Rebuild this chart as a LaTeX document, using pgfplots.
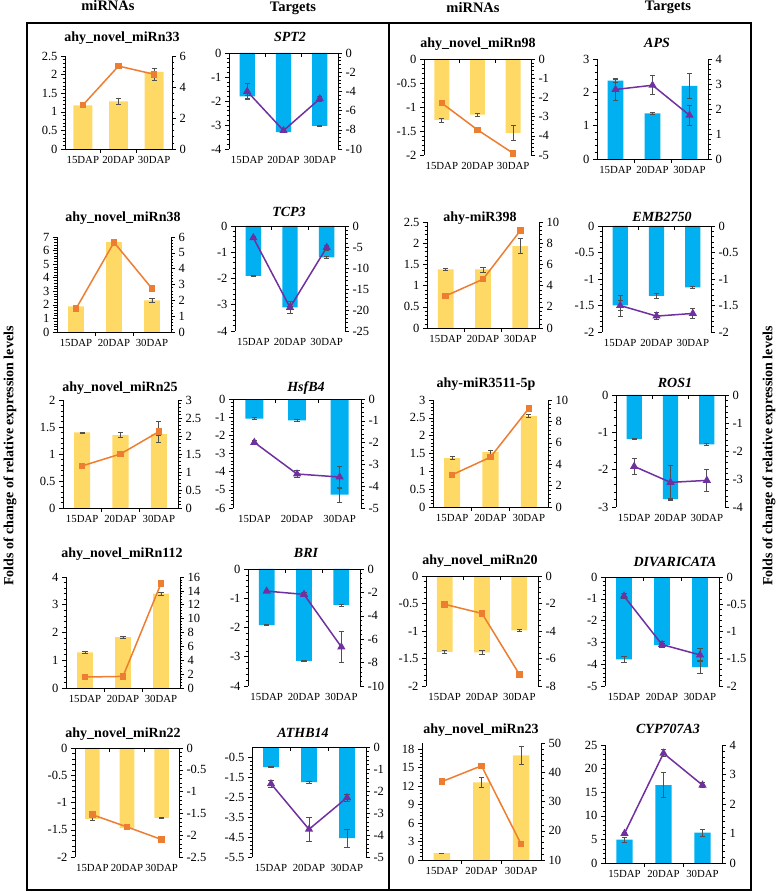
\documentclass[border=0pt]{standalone}
\usepackage{fontspec}
\setmainfont{Liberation Serif}
\usepackage{pgfplots}
\pgfplotsset{compat=1.18}
\definecolor{baryel}{HTML}{FFD966}
\definecolor{barblue}{HTML}{00B0F0}
\definecolor{lorange}{HTML}{ED7D31}
\definecolor{lpurple}{HTML}{7030A0}
\definecolor{errc}{HTML}{505050}
\pgfplotsset{
  pbase/.style={scale only axis, anchor=south west, xmin=-0.5, xmax=2.5,
    /pgf/number format/assume math mode=true,
    yticklabel style={font=\fontsize{12.5}{12.5}\selectfont},
    axis line style={-, line width=0.6pt, black},
    tick style={black, line width=0.5pt},
    major tick length=4pt, minor tick length=2.5pt,
    minor y tick num=4, tick align=outside, clip=false},
  barax/.style={pbase, axis y line*=left, axis x line*=bottom,
    x axis line style={draw=none}, xtick={0,1,2},
    xticklabels={15DAP,20DAP,30DAP},
    xtick style={draw=none},
    xticklabel style={font=\fontsize{10.8}{10.8}\selectfont},
    bar width=0.42},
  lineax/.style={pbase, axis y line*=right, axis x line=none},
  errsty/.style={error bars/y dir=both, error bars/y explicit,
    error bars/error bar style={errc, line width=0.7pt},
    error bars/error mark options={errc, rotate=90, mark size=2.6pt, line width=0.7pt}},
  barm/.style={ybar, fill=baryel, draw=none, errsty},
  bart/.style={ybar, fill=barblue, draw=none, errsty},
  linem/.style={lorange, line width=1.5pt, mark=square*, mark size=2.5pt, mark options={solid, fill=lorange}, errsty},
  linet/.style={lpurple, line width=1.5pt, mark=triangle*, mark size=3.3pt, mark options={solid, fill=lpurple}, errsty},
}
\newcommand{\panel}[6]{%
  \begin{axis}[barax,#1,#3]
    \addplot[bar#2] coordinates {#4};
    \draw[line width=0.6pt] (axis cs:-0.5,0) -- (axis cs:2.5,0);
    \draw[line width=0.5pt] (axis cs:0.5,0) -- ++(0pt,-4pt);
    \draw[line width=0.5pt] (axis cs:1.5,0) -- ++(0pt,-4pt);
  \end{axis}
  \begin{axis}[lineax,#1,#5]
    \addplot[line#2] coordinates {#6};
  \end{axis}}
\newcommand{\mt}[2]{\node[anchor=base, font=\fontsize{14}{14}\selectfont\bfseries] at (#1) {#2};}
\newcommand{\tgt}[2]{\node[anchor=base, font=\fontsize{14}{14}\selectfont\bfseries\itshape] at (#1) {#2};}
\begin{document}
\begin{tikzpicture}
\path[use as bounding box] (0,0) rectangle (778pt,892pt);
% frames
\draw[line width=1.2pt] (27pt,2pt) rectangle (751pt,869pt);
\draw[line width=1.2pt] (389pt,2pt) -- (389pt,869pt);
% headers
\node[anchor=base, font=\fontsize{14.5}{14.5}\selectfont\bfseries] at (108pt,881pt) {miRNAs};
\node[anchor=base, font=\fontsize{14.5}{14.5}\selectfont\bfseries] at (293pt,880pt) {Targets};
\node[anchor=base, font=\fontsize{14.5}{14.5}\selectfont\bfseries] at (473pt,879pt) {miRNAs};
\node[anchor=base, font=\fontsize{14.5}{14.5}\selectfont\bfseries] at (668pt,881pt) {Targets};
\node[rotate=90, font=\fontsize{14}{14}\selectfont\bfseries] at (10pt,436pt) {Folds of change of relative expression levels};
\node[rotate=90, font=\fontsize{14}{14}\selectfont\bfseries] at (769pt,436pt) {Folds of change of relative expression levels};
% Row 1
\panel{at={(65pt,743pt)},width=107pt,height=93pt}{m}
  {ymin=0,ymax=2.5,ytick={0,0.5,1,1.5,2,2.5},bar width=0.53}
  {(0,1.17)+-(0,0.02) (1,1.28)+-(0,0.07) (2,2.07)+-(0,0.02)}
  {ymin=0,ymax=6,ytick={0,2,4,6}}
  {(0,2.83)+-(0,0.15) (1,5.35)+-(0,0.05) (2,4.82)+-(0,0.4)}
\mt{122pt,850pt}{ahy\_novel\_miRn33}
\panel{at={(229pt,743pt)},width=109pt,height=96pt}{t}
  {ymin=-4,ymax=0,ytick={-4,-3,-2,-1,0}}
  {(0,-1.81)+-(0,0.06) (1,-3.3)+-(0,0.02) (2,-3.04)+-(0,0.03)}
  {ymin=-10,ymax=0,ytick={-10,-8,-6,-4,-2,0}}
  {(0,-4.0)+-(0,0.8) (1,-8.08)+-(0,0.2) (2,-4.77)+-(0,0.3)}
\tgt{290pt,850pt}{SPT2}
\panel{at={(424pt,737pt)},width=107pt,height=96pt}{m}
  {ymin=-2,ymax=0,ytick={-2,-1.5,-1,-0.5,0}}
  {(0,-1.27)+-(0,0.04) (1,-1.16)+-(0,0.03) (2,-1.54)+-(0,0.16)}
  {ymin=-5,ymax=0,ytick={-5,-4,-3,-2,-1,0}}
  {(0,-2.3)+-(0,0.02) (1,-3.69)+-(0,0.02) (2,-4.91)+-(0,0.02)}
\mt{478pt,844pt}{ahy\_novel\_miRn98}
\panel{at={(597pt,733pt)},width=111pt,height=100pt}{t}
  {ymin=0,ymax=3,ytick={0,1,2,3}}
  {(0,2.35)+-(0,0.05) (1,1.37)+-(0,0.03) (2,2.19)+-(0,0.38)}
  {ymin=0,ymax=4,ytick={0,1,2,3,4}}
  {(0,2.78)+-(0,0.45) (1,2.95)+-(0,0.38) (2,1.75)+-(0,0.4)}
\tgt{657pt,844pt}{APS}
% Row 2
\panel{at={(57pt,560pt)},width=114pt,height=95pt}{m}
  {ymin=0,ymax=7,ytick={0,1,2,3,4,5,6,7}}
  {(0,1.89)+-(0,0.05) (1,6.63)+-(0,0.1) (2,2.33)+-(0,0.15)}
  {ymin=0,ymax=6,ytick={0,1,2,3,4,5,6}}
  {(0,1.47)+-(0,0.1) (1,5.66)+-(0,0.1) (2,2.74)+-(0,0.05)}
\mt{123pt,670pt}{ahy\_novel\_miRn38}
\panel{at={(235pt,561pt)},width=110pt,height=105pt}{t}
  {ymin=-4,ymax=0,ytick={-4,-3,-2,-1,0}}
  {(0,-1.9)+-(0,0.02) (1,-3.1)+-(0,0.02) (2,-1.2)+-(0,0.03)}
  {ymin=-25,ymax=0,ytick={-25,-20,-15,-10,-5,0}}
  {(0,-2.8)+-(0,0.3) (1,-19.4)+-(0,1.5) (2,-5.1)+-(0,0.6)}
\tgt{289pt,675pt}{TCP3}
\panel{at={(427pt,564pt)},width=112pt,height=106pt}{m}
  {ymin=0,ymax=2.5,ytick={0,0.5,1,1.5,2,2.5}}
  {(0,1.38)+-(0,0.02) (1,1.38)+-(0,0.06) (2,1.93)+-(0,0.18)}
  {ymin=0,ymax=10,ytick={0,2,4,6,8,10}}
  {(0,3.03)+-(0,0.05) (1,4.6)+-(0,0.05) (2,9.19)+-(0,0.05)}
\mt{480pt,670pt}{ahy-miR398}
\panel{at={(602pt,560pt)},width=109pt,height=106pt}{t}
  {ymin=-2,ymax=0,ytick={-2,-1.5,-1,-0.5,0}}
  {(0,-1.5)+-(0,0.1) (1,-1.32)+-(0,0.05) (2,-1.16)+-(0,0.02)}
  {ymin=-2,ymax=0,ytick={-2,-1.5,-1,-0.5,0}}
  {(0,-1.5)+-(0,0.2) (1,-1.7)+-(0,0.07) (2,-1.65)+-(0,0.09)}
\tgt{662pt,670pt}{EMB2750}
% Row 3
\panel{at={(63pt,384pt)},width=115pt,height=108pt}{m}
  {ymin=0,ymax=2,ytick={0,0.5,1,1.5,2}}
  {(0,1.40)+-(0,0.01) (1,1.35)+-(0,0.05) (2,1.37)+-(0,0.02)}
  {ymin=0,ymax=3,ytick={0,0.5,1,1.5,2,2.5,3}}
  {(0,1.17)+-(0,0.02) (1,1.5)+-(0,0.02) (2,2.12)+-(0,0.3)}
\mt{120pt,500pt}{ahy\_novel\_miRn25}
\panel{at={(233pt,384pt)},width=128pt,height=109pt}{t}
  {ymin=-6,ymax=0,ytick={-6,-5,-4,-3,-2,-1,0}}
  {(0,-1.08)+-(0,0.05) (1,-1.17)+-(0,0.05) (2,-5.27)+-(0,0.4)}
  {ymin=-5,ymax=0,ytick={-5,-4,-3,-2,-1,0}}
  {(0,-1.99)+-(0,0.08) (1,-3.44)+-(0,0.15) (2,-3.58)+-(0,0.5)}
\tgt{306pt,500pt}{HsfB4}
\panel{at={(433pt,385pt)},width=115pt,height=107pt}{m}
  {ymin=0,ymax=3,ytick={0,0.5,1,1.5,2,2.5,3}}
  {(0,1.37)+-(0,0.04) (1,1.54)+-(0,0.05) (2,2.55)+-(0,0.05)}
  {ymin=0,ymax=10,ytick={0,2,4,6,8,10}}
  {(0,3.01)+-(0,0.05) (1,4.66)+-(0,0.05) (2,9.22)+-(0,0.05)}
\mt{486pt,504pt}{ahy-miR3511-5p}
\panel{at={(616pt,385pt)},width=109pt,height=112pt}{t}
  {ymin=-3,ymax=0,ytick={-3,-2,-1,0}}
  {(0,-1.18)+-(0,0.02) (1,-2.79)+-(0,0.02) (2,-1.32)+-(0,0.02)}
  {ymin=-4,ymax=0,ytick={-4,-3,-2,-1,0}}
  {(0,-2.55)+-(0,0.3) (1,-3.12)+-(0,0.6) (2,-3.05)+-(0,0.4)}
\tgt{675pt,504pt}{ROS1}
% Row 4
\panel{at={(66pt,204pt)},width=114pt,height=111pt}{m}
  {ymin=0,ymax=4,ytick={0,1,2,3,4}}
  {(0,1.28)+-(0,0.03) (1,1.83)+-(0,0.03) (2,3.4)+-(0,0.05)}
  {ymin=0,ymax=16,ytick={0,2,4,6,8,10,12,14,16}}
  {(0,1.58)+-(0,0.05) (1,1.67)+-(0,0.05) (2,15.06)+-(0,0.05)}
\mt{122pt,334pt}{ahy\_novel\_miRn112}
\panel{at={(248pt,206pt)},width=112pt,height=117pt}{t}
  {ymin=-4,ymax=0,ytick={-4,-3,-2,-1,0}}
  {(0,-1.92)+-(0,0.02) (1,-3.14)+-(0,0.01) (2,-1.23)+-(0,0.03)}
  {ymin=-10,ymax=0,ytick={-10,-8,-6,-4,-2,0}}
  {(0,-1.89)+-(0,0.1) (1,-2.17)+-(0,0.15) (2,-6.66)+-(0,1.3)}
\tgt{306pt,334pt}{BRI}
\panel{at={(426pt,206pt)},width=112pt,height=110pt}{m}
  {ymin=-2,ymax=0,ytick={-2,-1.5,-1,-0.5,0}}
  {(0,-1.38)+-(0,0.02) (1,-1.39)+-(0,0.03) (2,-0.99)+-(0,0.02)}
  {ymin=-8,ymax=0,ytick={-8,-6,-4,-2,0}}
  {(0,-2.06)+-(0,0.02) (1,-2.72)+-(0,0.02) (2,-7.15)+-(0,0.02)}
\mt{480pt,327pt}{ahy\_novel\_miRn20}
\panel{at={(605pt,206pt)},width=114pt,height=109pt}{t}
  {ymin=-5,ymax=0,ytick={-5,-4,-3,-2,-1,0}}
  {(0,-3.78)+-(0,0.15) (1,-3.13)+-(0,0.08) (2,-4.13)+-(0,0.3)}
  {ymin=-2,ymax=0,ytick={-2,-1.5,-1,-0.5,0}}
  {(0,-0.35)+-(0,0.05) (1,-1.24)+-(0,0.06) (2,-1.43)+-(0,0.12)}
\tgt{675pt,325pt}{DIVARICATA}
% Row 5
\panel{at={(75pt,35pt)},width=104pt,height=109pt}{m}
  {ymin=-2,ymax=0,ytick={-2,-1.5,-1,-0.5,0}}
  {(0,-1.3)+-(0,0.03) (1,-1.47)+-(0,0.03) (2,-1.28)+-(0,0.01)}
  {ymin=-2.5,ymax=0,ytick={-2.5,-2,-1.5,-1,-0.5,0}}
  {(0,-1.53)+-(0,0.02) (1,-1.81)+-(0,0.02) (2,-2.1)+-(0,0.02)}
\mt{123pt,154pt}{ahy\_novel\_miRn22}
\panel{at={(252pt,35pt)},width=114pt,height=110pt}{t}
  {ymin=-5.5,ymax=0,ytick={-5.5,-4.5,-3.5,-2.5,-1.5,-0.5}}
  {(0,-1.0)+-(0,0.02) (1,-1.75)+-(0,0.05) (2,-4.55)+-(0,0.45)}
  {ymin=-5,ymax=0,ytick={-5,-4,-3,-2,-1,0}}
  {(0,-1.67)+-(0,0.15) (1,-3.74)+-(0,0.55) (2,-2.3)+-(0,0.15)}
\tgt{303pt,154pt}{ATHB14}
\panel{at={(422pt,32pt)},width=119pt,height=117pt}{m}
  {ymin=0,ymax=19,ytick={0,3,6,9,12,15,18}}
  {(0,1.1)+-(0,0.05) (1,12.6)+-(0,0.8) (2,17.0)+-(0,1.5)}
  {ymin=10,ymax=50,ytick={10,20,30,40,50}}
  {(0,36.8)+-(0,0.2) (1,42.2)+-(0,0.2) (2,15.4)+-(0,0.2)}
\mt{481pt,158pt}{ahy\_novel\_miRn23}
\panel{at={(605pt,29pt)},width=117pt,height=118pt}{t}
  {ymin=0,ymax=25,ytick={0,5,10,15,20,25}}
  {(0,4.96)+-(0,0.5) (1,16.5)+-(0,2.6) (2,6.44)+-(0,0.7)}
  {ymin=0,ymax=4,ytick={0,1,2,3,4}}
  {(0,1.0)+-(0,0.05) (1,3.72)+-(0,0.12) (2,2.64)+-(0,0.08)}
\tgt{668pt,158pt}{CYP707A3}
\end{tikzpicture}
\end{document}
